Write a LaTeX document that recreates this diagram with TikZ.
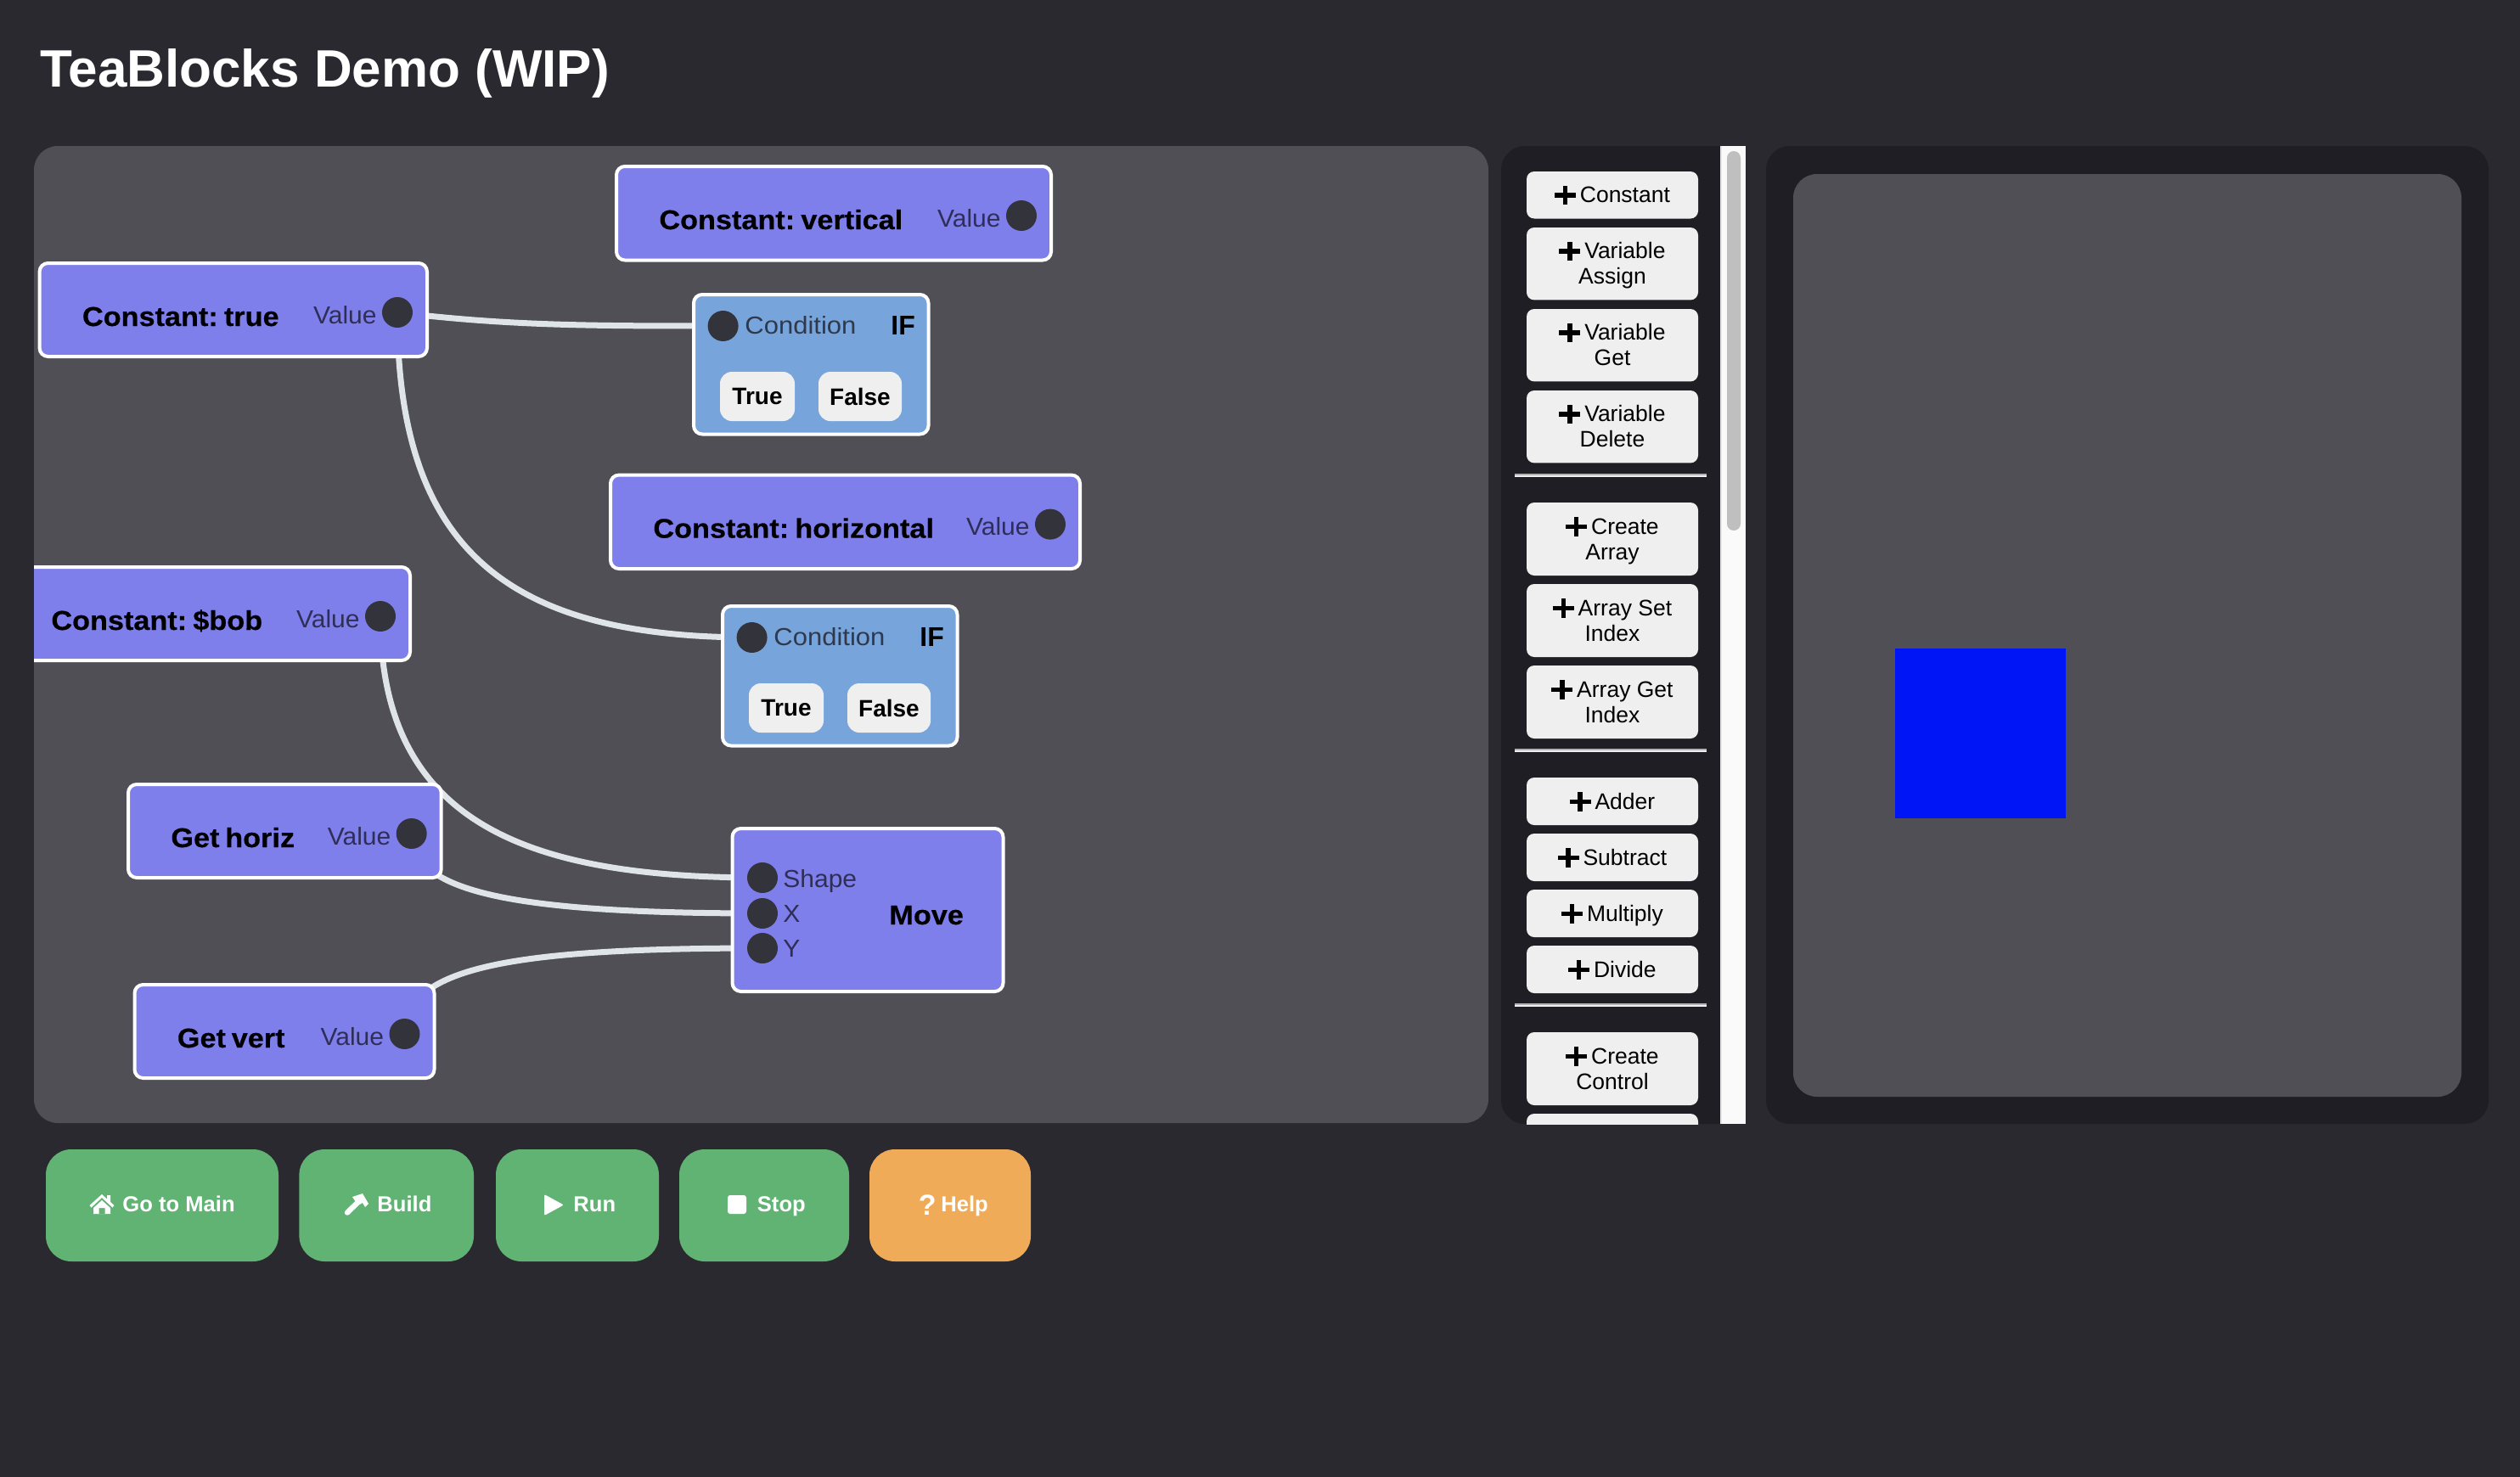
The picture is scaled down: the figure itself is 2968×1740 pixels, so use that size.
\documentclass[tikz,border=0pt]{standalone}
\usepackage{fontspec}
\setmainfont{Liberation Sans}
\newfontfamily\blockfont[FakeStretch=1.07,BoldFeatures={FakeBold=0.4}]{Liberation Sans}
\newfontfamily\valuefont[FakeStretch=1.035]{Liberation Sans}
\newfontfamily\condfont[FakeStretch=1.07]{Liberation Sans}
\definecolor{pagebg}{HTML}{2A292F}
\definecolor{canvasbg}{HTML}{504F55}
\definecolor{sidebg}{HTML}{1E1E24}
\definecolor{blockfill}{HTML}{7E7FEA}
\definecolor{iffill}{HTML}{77A5DB}
\definecolor{portfill}{HTML}{33333B}
\definecolor{valuetext}{HTML}{2E2E58}
\definecolor{condtext}{HTML}{30384B}
\definecolor{wirecol}{HTML}{DFE4E8}
\definecolor{btnlight}{HTML}{EFEFEF}
\definecolor{greenbtn}{HTML}{60B373}
\definecolor{orangebtn}{HTML}{F0AB58}
\definecolor{blueshape}{HTML}{0015F5}
\pgfdeclarelayer{base}
\pgfdeclarelayer{conn}
\pgfsetlayers{base,conn,main}
\tikzset{
  panel/.style={fill=#1,rounded corners=14pt,draw=none},
  block/.style={fill=blockfill,draw=white,line width=2pt,rounded corners=5pt},
  ifbox/.style={fill=iffill,draw=white,line width=2pt,rounded corners=5pt},
  port/.style={circle,fill=portfill,minimum size=18pt,inner sep=0pt,draw=none},
  title/.style={anchor=base west,inner sep=0pt,text=black,font={\blockfont\bfseries\fontsize{16}{16}\selectfont}},
  value/.style={anchor=base east,inner sep=0pt,text=valuetext,font={\valuefont\fontsize{14.5}{14.5}\selectfont}},
  portlabel/.style={anchor=base west,inner sep=0pt,text=valuetext,font={\valuefont\fontsize{14.5}{14.5}\selectfont}},
  condlabel/.style={anchor=base west,inner sep=0pt,text=condtext,font={\condfont\fontsize{14.5}{14.5}\selectfont}},
  branch/.style={fill=btnlight,rounded corners=7pt,draw=none,text=black,font={\bfseries\fontsize{14}{14}\selectfont}},
  wire/.style={draw=wirecol,line width=3.5pt},
  sidebtn/.style={fill=btnlight,rounded corners=4.5pt,draw=none,align=center,text=black,font={\fontsize{13.25}{15}\selectfont}},
  actionbtn/.style={fill=#1,rounded corners=15pt,draw=none},
  actiontext/.style={anchor=base west,inner sep=0pt,text=white,font={\bfseries\fontsize{12.8}{12.8}\selectfont}},
  iconfill/.style={fill=white,draw=none}
}
% a box node given by its outer edges, in pixels of the reference
\newcommand\boxat[7]{\node[#1,minimum width={((#5)-(#3))*0.5pt},minimum height={((#6)-(#4))*0.5pt},inner sep=0pt] (#2) at ({((#3)+(#5))/2},{((#4)+(#6))/2}) {#7};}
% same, for a box with a white border
\newcommand\bordered[6]{\node[#1,minimum width={((#5)-(#3)-2)*0.5pt},minimum height={((#6)-(#4)-2)*0.5pt},inner sep=0pt] (#2) at ({((#3)+(#5))/2},{((#4)+(#6))/2}) {};}
\newcommand\valueblock[6]{%
  \bordered{block}{#1}{#2}{#3}{#4}{#5}
  \node[title] (#1-title) at ({#2+51},{#3+75}) {#6};
  \node[port] (#1-port) at ({#4-36},{#3+59}) {};
  \node[value] (#1-value) at ({#4-60},{#3+72}) {Value};
}
\newcommand\ifblock[3]{%
  \bordered{ifbox}{#1}{#2}{#3}{#2+278.5}{#3+166.5}
  \node[port] (#1-port) at ({#2+35.6},{#3+38}) {};
  \node[condlabel] (#1-cond) at ({#2+61},{#3+47}) {Condition};
  \node[title,font={\bfseries\fontsize{16}{16}\selectfont}] (#1-if) at ({#2+233},{#3+48}) {IF};
  \boxat{branch}{#1-true}{#2+32}{#3+92}{#2+120}{#3+150}{True}
  \boxat{branch}{#1-false}{#2+148}{#3+92}{#2+246}{#3+150}{False}
}
\newcommand\sbstrut{\rule{0pt}{12pt}\rule[-3pt]{0pt}{3pt}}
\newcommand\plusic{\makebox[12.4pt][l]{\rule[2.95pt]{12.4pt}{2.7pt}\hspace{-7.55pt}\rule[-1.35pt]{2.7pt}{11.4pt}}\hspace{2.5pt}}
\newcommand\sidebutton[4]{\boxat{sidebtn}{#1}{1798}{#2}{2000}{#3}{#4}}
\newcommand\sepline[2]{%
  \fill[gray!60] (1784,{#2-2}) rectangle (2010,#2);
  \fill[btnlight] (1784,#2) rectangle (2010,{#2+2});
}
\begin{document}
\begin{tikzpicture}[x=0.5pt,y=-0.5pt]
\useasboundingbox (0,0) rectangle (2968,1740);
\begin{pgfonlayer}{base}
  \fill[pagebg] (0,0) rectangle (2968,1740);
  \boxat{panel=canvasbg}{canvas}{40}{172}{1753}{1323}{}
  \boxat{panel=sidebg}{sidebar}{1768}{172}{2056}{1324}{}
  \fill[white!98!black] (2026,172) rectangle (2056,1324);
  \fill[white!90!black] (2026,172) rectangle (2028,1324);
  \boxat{panel=sidebg}{stage}{2080}{172}{2931}{1324}{}
  \boxat{panel=canvasbg}{stagearea}{2112}{205}{2899}{1292}{}
\end{pgfonlayer}

\node[anchor=base west,inner sep=0pt,text=white,font={\bfseries\fontsize{31}{31}\selectfont}] (heading) at (47,102) {TeaBlocks Demo (WIP)};

% blocks
\valueblock{vertical}{725}{195}{1239}{307.5}{Constant:\hspace{3.6pt}vertical}
\valueblock{true}{45.6}{309}{504}{421}{Constant:\hspace{3.6pt}true}
\valueblock{horizontal}{718}{558.6}{1273}{671}{Constant:\hspace{3.6pt}horizontal}
\begin{scope}
  \clip (40,640) rectangle (600,800);
  \valueblock{bob}{9}{667}{484}{779}{Constant:\hspace{3.6pt}\$bob}
\end{scope}
\valueblock{gethoriz}{150}{923}{520.7}{1035}{Get\hspace{3.4pt}horiz}
\valueblock{getvert}{157.5}{1159}{512.5}{1271}{Get\hspace{3.4pt}vert}
\ifblock{ifa}{816}{346}
\ifblock{ifb}{850}{713}
\bordered{block}{move}{861.5}{975}{1182.5}{1169}
\node[port] (move-shape) at (898,1034) {};
\node[port] (move-x) at (898,1076) {};
\node[port] (move-y) at (898,1117) {};
\node[portlabel] (move-shapelabel) at (922,1045.6) {Shape};
\node[portlabel] (move-xlabel) at (922,1086.6) {X};
\node[portlabel] (move-ylabel) at (922,1127) {Y};
\node[title] (move-title) at (1047,1089) {Move};

% connectors
\begin{pgfonlayer}{conn}
  \draw[wire] (true-port.center) .. controls +(131.5,16) and +(-151.6,0) .. (ifa-port.center);
  \draw[wire] (true-port.center) .. controls +(0,282) and +(-285.6,0) .. (ifb-port.center);
  \draw[wire] (bob-port.center) .. controls +(0,244) and +(-278,0) .. (move-shape.center);
  \draw[wire] (gethoriz-port.center) .. controls +(0,68) and +(-298,0) .. (move-x.center);
  \draw[wire] (getvert-port.center) .. controls +(0,-78) and +(-298,0) .. (move-y.center);
\end{pgfonlayer}

% palette
\sidebutton{sbconstant}{202}{257.5}{\sbstrut\plusic Constant}
\sidebutton{sbassign}{268}{353.4}{\sbstrut\plusic Variable\\\sbstrut Assign}
\sidebutton{sbget}{364}{449.4}{\sbstrut\plusic Variable\\\sbstrut Get}
\sidebutton{sbdelete}{460}{545.4}{\sbstrut\plusic Variable\\\sbstrut Delete}
\sepline{a}{560}
\sidebutton{sbarray}{592}{678}{\sbstrut\plusic Create\\\sbstrut Array}
\sidebutton{sbset}{688}{774}{\sbstrut\plusic Array Set\\\sbstrut Index}
\sidebutton{sbidx}{784}{870}{\sbstrut\plusic Array Get\\\sbstrut Index}
\sepline{b}{884}
\sidebutton{sbadder}{916}{972}{\sbstrut\plusic Adder}
\sidebutton{sbsub}{982}{1038}{\sbstrut\plusic Subtract}
\sidebutton{sbmul}{1048}{1104}{\sbstrut\plusic Multiply}
\sidebutton{sbdiv}{1114}{1170}{\sbstrut\plusic Divide}
\sepline{c}{1184}
\sidebutton{sbcontrol}{1216}{1302}{\sbstrut\plusic Create\\\sbstrut Control}
\begin{scope}
  \clip (1790,1305) rectangle (2010,1324);
  \sidebutton{sbnext}{1312}{1398}{}
\end{scope}
\boxat{fill=gray!50!white,rounded corners=4pt}{scrollthumb}{2034}{178}{2050}{625}{}

% stage
\boxat{fill=blueshape,draw=none}{shape}{2232}{764}{2433}{964}{}

% action buttons
\boxat{actionbtn=greenbtn}{gomain}{54}{1354}{328}{1486}{}
\boxat{actionbtn=greenbtn}{build}{352.4}{1354}{558}{1486}{}
\boxat{actionbtn=greenbtn}{run}{584}{1354}{776}{1486}{}
\boxat{actionbtn=greenbtn}{stop}{800}{1354}{1000}{1486}{}
\boxat{actionbtn=orangebtn}{help}{1024}{1354}{1214}{1486}{}
\node[actiontext] (gomain-text) at (144,1427) {Go to Main};
\node[actiontext] (build-text) at (444,1427) {Build};
\node[actiontext] (run-text) at (675,1427) {Run};
\node[actiontext] (stop-text) at (891.5,1427) {Stop};
\node[actiontext] (help-text) at (1108,1427) {Help};
\node[actiontext,font={\bfseries\fontsize{17}{17}\selectfont}] (help-icon) at (1081.5,1431) {?};
% house
\fill[iconfill] (120,1407) -- (126,1412.5) -- (126,1408) -- (130,1408) -- (130,1416) -- (134.5,1420) -- (132.5,1422.5) -- (120,1411) -- (107.5,1422.5) -- (105.5,1420) -- cycle;
\fill[iconfill,even odd rule] (120,1414) -- (130,1423) -- (130,1430) -- (110,1430) -- (110,1423) -- cycle (116.5,1423) rectangle (123.5,1430);
% hammer
\draw[white,line width=3.2pt,line cap=round] (409,1428.5) -- (423,1415);
\fill[iconfill] (415,1410) -- (427,1406) -- (434,1418) -- (430,1422) -- (427,1417) -- (421.7,1420) -- cycle;
% play and stop
\fill[iconfill,rounded corners=1pt] (641,1407) -- (664,1419.5) -- (641,1432) -- cycle;
\fill[iconfill,rounded corners=1.5pt] (857,1408) rectangle (879,1430);
\end{tikzpicture}
\end{document}
